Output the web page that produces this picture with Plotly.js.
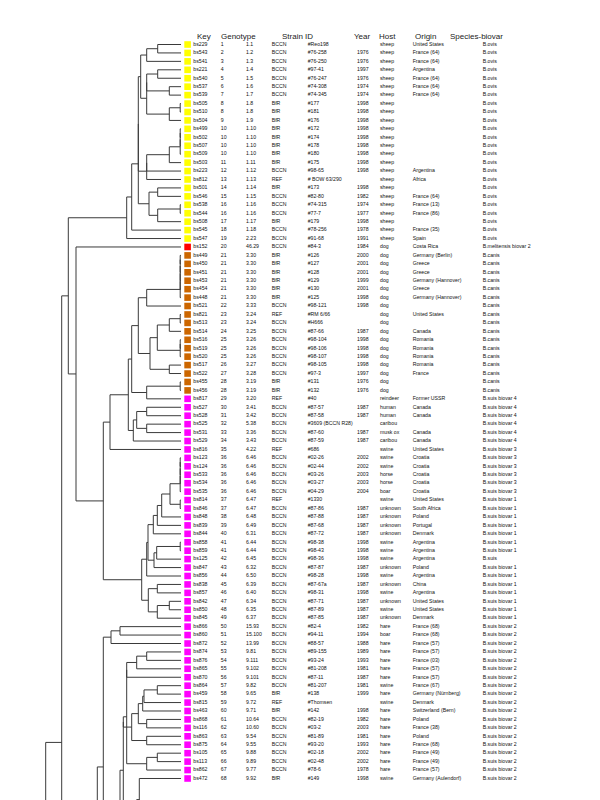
<!DOCTYPE html>
<html>
<head>
<meta charset="utf-8">
<script src="https://cdn.plot.ly/plotly-3.0.1.min.js"></script>
<style>
  body { margin: 0; background: #fff; }
  #plotArea { width: 600px; height: 800px; }
</style>
</head>
<body>
<div id="plotArea"></div>
<script>
// Table rows, top to bottom
var keys = ["bs229","bs543","bs541","bs221","bs540","bs537","bs539","bs505","bs510","bs504","bs499","bs502","bs507","bs509","bs503","bs223","bs812","bs501","bs546","bs538","bs544","bs508","bs545","bs547","bs152","bs449","bs450","bs451","bs453","bs454","bs448","bs521","bs821","bs513","bs514","bs516","bs519","bs520","bs517","bs522","bs455","bs456","bs817","bs527","bs528","bs525","bs531","bs529","bs816","bs123","bs124","bs533","bs534","bs535","bs814","bs846","bs848","bs839","bs844","bs858","bs859","bs125","bs847","bs856","bs838","bs857","bs842","bs850","bs845","bs866","bs860","bs872","bs874","bs876","bs865","bs870","bs864","bs459","bs815","bs463","bs868","bs116","bs863","bs875","bs105","bs113","bs862","bs472"];

var genotypes = [1,2,3,4,5,6,7,8,8,9,10,10,10,10,11,12,13,14,15,16,16,17,18,19,20,21,21,21,21,21,21,22,23,23,24,25,25,25,26,27,28,28,29,30,31,32,33,34,35,36,36,36,36,36,37,37,38,39,40,41,41,42,43,44,45,46,47,48,49,50,51,52,53,54,55,56,57,58,59,60,61,62,63,64,65,66,67,68];

var codes = ["1.1","1.2","1.3","1.4","1.5","1.6","1.7","1.8","1.8","1.9","1.10","1.10","1.10","1.10","1.11","1.12","1.13","1.14","1.15","1.16","1.16","1.17","1.18","2.23","46.29","3.30","3.30","3.30","3.30","3.30","3.30","3.33","3.24","3.24","3.25","3.26","3.26","3.26","3.27","3.28","3.19","3.19","3.20","3.41","3.42","5.38","3.36","3.43","4.22","6.46","6.46","6.46","6.46","6.46","6.47","6.47","6.48","6.49","6.31","6.44","6.44","6.45","6.32","6.50","6.39","6.40","6.34","6.35","6.37","15.93","15.100","13.99","9.81","9.111","9.102","9.101","9.82","9.65","9.72","9.71","10.64","10.60","9.54","9.55","9.88","9.89","9.77","9.92"];

var labs = ["BCCN","BCCN","BCCN","BCCN","BCCN","BCCN","BCCN","BfR","BfR","BfR","BfR","BfR","BfR","BfR","BfR","BCCN","REF","BfR","BCCN","BCCN","BCCN","BfR","BCCN","BCCN","BCCN","BfR","BfR","BfR","BfR","BfR","BfR","BCCN","REF","BCCN","BCCN","BCCN","BCCN","BCCN","BCCN","BCCN","BfR","BfR","REF","BCCN","BCCN","BCCN","BCCN","BCCN","REF","BCCN","BCCN","BCCN","BCCN","BCCN","REF","BCCN","BCCN","BCCN","BCCN","BCCN","BCCN","BCCN","BCCN","BCCN","BCCN","BCCN","BCCN","BCCN","BCCN","BCCN","BCCN","BCCN","BCCN","BCCN","BCCN","BCCN","BCCN","BfR","REF","BfR","BCCN","BCCN","BCCN","BCCN","BCCN","BCCN","BCCN","BfR"];

var strains = ["#Reo198","#76-258","#76-250","#97-41","#76-247","#74-308","#74-345","#177","#181","#176","#172","#174","#178","#180","#175","#98-65","# BOW 63/290","#173","#82-80","#74-315","#77-7","#179","#78-256","#91-68","#84-3","#126","#127","#128","#129","#130","#125","#98-121","#RM 6/66","#H666","#87-66","#98-104","#98-106","#98-107","#98-105","#97-3","#131","#132","#40","#87-57","#87-58","#3609 (BCCN R28)","#87-60","#87-59","#686","#02-26","#02-44","#03-26","#03-27","#04-29","#1330","#87-86","#87-88","#87-68","#87-72","#98-38","#98-43","#98-36","#87-87","#98-28","#87-67a","#98-31","#87-71","#87-89","#87-85","#82-4","#94-11","#88-57","#89-155","#93-24","#81-208","#87-11","#81-207","#138","#Thomsen","#142","#82-19","#03-2","#81-89","#93-20","#02-18","#02-48","#78-6","#149"];

var years = ["","1976","1976","1997","1976","1974","1974","1998","1998","1998","1998","1998","1998","1998","1998","1998","","1998","1982","1974","1977","1998","1978","1991","1984","2000","2001","2001","1999","2001","1998","1998","","","1987","1998","1998","1998","1998","1997","1976","1976","","1987","1987","","1987","1987","","2002","2002","2003","2003","2004","","1987","1987","1987","1987","1998","1998","1998","1987","1998","1987","1998","1987","1987","1987","1982","1994","1988","1989","1993","1981","1987","1981","1999","","1998","1982","2003","1981","1993","2002","2002","1978","1998"];

var hosts = ["sheep","sheep","sheep","sheep","sheep","sheep","sheep","sheep","sheep","sheep","sheep","sheep","sheep","sheep","sheep","sheep","sheep","sheep","sheep","sheep","sheep","sheep","sheep","sheep","dog","dog","dog","dog","dog","dog","dog","dog","dog","dog","dog","dog","dog","dog","dog","dog","dog","dog","reindeer","human","human","caribou","musk ox","caribou","swine","swine","swine","horse","horse","boar","swine","unknown","unknown","unknown","unknown","swine","swine","swine","unknown","swine","unknown","swine","unknown","swine","unknown","hare","boar","hare","hare","hare","hare","hare","swine","hare","swine","hare","hare","hare","hare","hare","hare","hare","hare","swine"];

var origins = ["United States","France (64)","France (64)","Argentina","France (64)","France (64)","France (64)","","","","","","","","","Argentina","Africa","","France (64)","France (13)","France (86)","","France (35)","Spain","Costa Rica","Germany (Berlin)","Greece","Greece","Germany (Hannover)","Greece","Germany (Hannover)","","United States","","Canada","Romania","Romania","Romania","Romania","France","","","Former USSR","Canada","Canada","","Canada","Canada","United States","Croatia","Croatia","Croatia","Croatia","Croatia","United States","South Africa","Poland","Portugal","Denmark","Argentina","Argentina","Argentina","Poland","Argentina","China","Argentina","United States","United States","Denmark","France (68)","France (68)","France (57)","France (57)","France (03)","France (57)","France (57)","France (67)","Germany (Nürnberg)","Denmark","Switzerland (Bern)","Poland","France (38)","Poland","France (68)","France (49)","France (49)","France (57)","Germany (Aulendorf)"];

var species = [];
for (var i = 0; i < 24; i++) species.push("B.ovis");
species.push("B.melitensis biovar 2");
for (var i = 0; i < 17; i++) species.push("B.canis");
for (var i = 0; i < 6; i++) species.push("B.suis biovar 4");
for (var i = 0; i < 6; i++) species.push("B.suis biovar 3");
for (var i = 0; i < 7; i++) species.push("B.suis biovar 1");
species.push("B.suis");
for (var i = 0; i < 7; i++) species.push("B.suis biovar 1");
for (var i = 0; i < 19; i++) species.push("B.suis biovar 2");

var headers = ["Key", "Genotype", "Strain ID", "Year", "Host", "Origin", "Species-biovar"];

// Dendrogram: leaves are row numbers (from 1), nodes are [height, a, b]
var ovisA = [40.3, [34.3, [23.3, 1, 2], 3], [34.3, [34.3, [23.3, 4, 5], [11.7, 6, 7]], [11.7, [0.8, 8, 9], 10]]];
var ovisB = [34.3, [34.3, [11.7, [0.8, [0.8, [0.8, 11, 12], 13], 14], 15], 16], 17];
var ovisC = [32, [23.3, 18, 19], [23.3, [0.8, 20, 21], 22]];
var ovis = [54.3, [49.3, [42.7, [42.7, ovisA, ovisB], ovisC], 23], 24];
var canisA = [34.3, [0.8, [0.8, [0.8, [0.8, [0.8, 26, 27], 28], 29], 30], 31], 32];
var canisB = [31, [23.7, [11.7, [0.8, 33, 34], 35], [0.8, [0.8, 36, 37], 38]], [11.7, 39, 40]];
var canis = [49.3, [42.7, canisA, canisB], [34.3, [0.8, 41, 42], 43]];
var suis4 = [47.7, [44.3, [34.3, 44, 45], [34.3, 46, 47]], 48];
var canisSuis = [71, [52.7, canis, suis4], 49];
var suis1A = [27.7, [23.7, [19.3, [11, [0.8, [0.8, [0.8, [0.8, 50, 51], 52], 53], 54], [0.8, 55, 56]], 57], 58], 59];
var suis1B = [27, [24.3, [0.8, 60, 61], 62], 63];
var suis1C = [32.7, [23.7, 65, 66], [23.7, [11.7, 67, 68], 69]];
var suis1 = [39.3, [34.3, [33, suis1A, suis1B], 64], suis1C];
var suis2A = [70, [61, 70, 71], 72];
var suis2B = [54.3, [54.3, [44.3, [34.3, 73, 74], 75], 76], [34.3, [23.7, 85, 86], 87]];
var suis2C = [49.3, [42.7, [38.3, [37, [23.7, 77, 78], 79], 80], [34.3, 81, 82]], [34.3, 83, 84]];
// rows after 88 are cut off below the picture
var suis2 = [77.7, suis2A, [61, [57.7, [57.7, suis2B, suis2C], [44.3, [41.7, 88, 93], 95]], 117]];
var tree = [135.3, [119.3, [112.7, ovis, [105, 25, [77.7, canisSuis, suis1]]], [100, [83.7, suis2, 130], 165]], 200];

// walk the tree into one line path
var lx = [], ly = [];
function walk(node) {
  if (typeof node === "number") return {x: 0, y: node - 1};
  var a = walk(node[1]), b = walk(node[2]), h = node[0];
  lx.push(a.x, h, h, b.x, null);
  ly.push(a.y, a.y, b.y, b.y, null);
  return {x: h, y: (a.y + b.y) / 2};
}
walk(tree);

function groupColor(s) {
  if (s.indexOf("B.ovis") === 0) return "#FFFF00";
  if (s.indexOf("B.melitensis") === 0) return "#FF0000";
  if (s.indexOf("B.canis") === 0) return "#CC6600";
  return "#FF00FF";
}

var rows = keys.map(function (k, i) { return i; });
var font = "Liberation Sans, Arial, sans-serif";

// column positions (px across the page) and alignment
var cols = [
  {vals: keys, x: 193.3, pos: "middle right"},
  {vals: genotypes, x: 220.8, pos: "middle right"},
  {vals: codes, x: 246, pos: "middle right"},
  {vals: labs, x: 271.7, pos: "middle right"},
  {vals: strains, x: 307.7, pos: "middle right"},
  {vals: years, x: 368.6, pos: "middle left"},
  {vals: hosts, x: 380, pos: "middle right"},
  {vals: origins, x: 412.7, pos: "middle right"},
  {vals: species, x: 482.7, pos: "middle right"}
];
var headerX = [194.5, 218.8, 279.5, 351.8, 377.2, 412.8, 447.8];

var data = [{
  x: lx, y: ly, xaxis: "x", yaxis: "y",
  mode: "lines", type: "scatter",
  line: {color: "#3a3a3a", width: 1},
  hoverinfo: "skip"
}, {
  x: rows.map(function () { return 187.6; }), y: rows,
  xaxis: "x2", yaxis: "y",
  mode: "markers", type: "scatter",
  marker: {symbol: "square", size: 6.6, color: species.map(groupColor), line: {width: 0}},
  hoverinfo: "skip"
}];

cols.forEach(function (c) {
  data.push({
    x: rows.map(function () { return c.x; }), y: rows,
    xaxis: "x2", yaxis: "y",
    mode: "text", type: "scatter",
    text: c.vals.map(String), textposition: c.pos,
    textfont: {family: font, size: 5.2, color: "#111"},
    cliponaxis: false,
    hoverinfo: "skip"
  });
});

var layout = {
  width: 600, height: 800,
  margin: {l: 0, r: 0, t: 0, b: 0},
  showlegend: false,
  paper_bgcolor: "#fff", plot_bgcolor: "rgba(0,0,0,0)",
  xaxis: {domain: [0, 181 / 600], range: [181, 0], visible: false, anchor: "y"},
  xaxis2: {domain: [0, 1], range: [0, 600], visible: false, anchor: "y"},
  yaxis: {domain: [0, 1], range: [89.55, -5.274], visible: false, anchor: "x"},
  annotations: headers.map(function (h, i) {
    return {
      text: h, xref: "x2", yref: "y", x: headerX[i], y: -1.0,
      xanchor: "left", yanchor: "middle", showarrow: false,
      font: {family: font, size: 8, color: "#222"}
    };
  })
};

Plotly.newPlot("plotArea", data, layout, {staticPlot: true, displayModeBar: false});
</script>
</body>
</html>
